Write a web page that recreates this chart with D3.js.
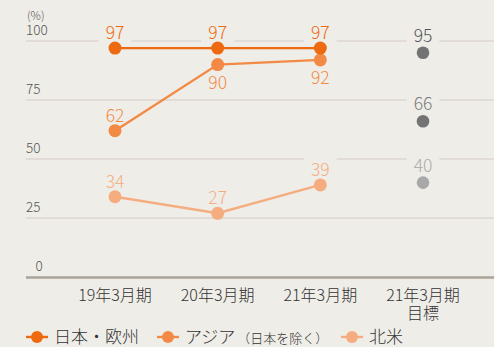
<!DOCTYPE html>
<html>
<head>
<meta charset="utf-8">
<script src="https://cdn.jsdelivr.net/npm/d3@7"></script>
<style>
  html, body { margin: 0; padding: 0; background: #efede8; }
  svg { display: block; font-family: "Noto Sans CJK JP", "Noto Sans", sans-serif; }
</style>
</head>
<body>
<svg id="chart" width="494" height="347"></svg>
<script>
// Periods on the x axis (the last one is the target column)
const categories = ["19年3月期", "20年3月期", "21年3月期", "21年3月期\n目標"];
const yTicks = [0, 25, 50, 75, 100];

// Actual results per region
const japanEurope = [97, 97, 97];
const asia = [62, 90, 92];
const northAmerica = [34, 27, 39];

// Targets for the final period
const targets = [95, 66, 40];

const series = [
  { name: "日本・欧州", values: japanEurope, color: "#ee6a10", labelPos: ["above", "above", "above"] },
  { name: "アジア", sub: "（日本を除く）", values: asia, color: "#f28a45", labelPos: ["above", "below", "below"] },
  { name: "北米", values: northAmerica, color: "#f5ad80", labelPos: ["above", "above", "above"] }
];
const targetStyle = [
  { dot: "#737373", text: "#555555" },
  { dot: "#737373", text: "#7a7a7a" },
  { dot: "#a8a8a8", text: "#aaaaaa" }
];

const bg = "#efede8";
const svg = d3.select("#chart");

const x = d3.scalePoint().domain(categories).range([115, 423]);
const y = d3.scaleLinear().domain([0, 100]).range([277, 41]);
const left = 26, right = 494;

// Horizontal grid lines
svg.append("g").selectAll("line")
  .data(yTicks.filter(d => d > 0))
  .join("line")
  .attr("x1", left).attr("x2", right)
  .attr("y1", d => y(d)).attr("y2", d => y(d))
  .attr("stroke", "#d3ccc5").attr("stroke-width", 1.2);

// Baseline
svg.append("line")
  .attr("x1", left).attr("x2", right)
  .attr("y1", y(0) + 0.5).attr("y2", y(0) + 0.5)
  .attr("stroke", "#aaa197").attr("stroke-width", 2.6);

// Y tick labels sit just above their grid lines
svg.append("g").selectAll("text")
  .data(yTicks)
  .join("text")
  .attr("x", d => d === 0 ? 39 : left)
  .attr("y", d => y(d) - 6)
  .attr("text-anchor", d => d === 0 ? "middle" : "start")
  .attr("font-size", 13.5)
  .attr("font-weight", 300)
  .attr("fill", "#555")
  .text(d => d);

svg.append("text")
  .attr("x", left + 1).attr("y", 20)
  .attr("font-size", 11.5)
  .attr("font-weight", 300)
  .attr("fill", "#555")
  .text("(%)");

// X axis labels
const xl = svg.append("g").selectAll("text")
  .data(categories)
  .join("text")
  .attr("x", d => x(d))
  .attr("y", 301)
  .attr("text-anchor", "middle")
  .attr("font-size", 16)
  .attr("font-weight", 300)
  .attr("fill", "#333");
xl.each(function(d) {
  const lines = d.split("\n");
  d3.select(this).selectAll("tspan")
    .data(lines)
    .join("tspan")
    .attr("x", x(d))
    .attr("dy", (l, i) => i === 0 ? 0 : 18)
    .text(l => l);
});

// Value label with a background patch that breaks the grid line behind it
function valueLabel(g, cx, cy, text, color, pos) {
  const ty = pos === "above" ? cy - 9 : cy + 24;
  const t = g.append("text")
    .attr("x", cx).attr("y", ty)
    .attr("text-anchor", "middle")
    .attr("font-size", 17.5)
    .attr("font-weight", 300)
    .attr("fill", color)
    .text(text);
  const bb = t.node().getBBox();
  g.insert("rect", () => t.node())
    .attr("x", bb.x - 7).attr("y", bb.y + 2)
    .attr("width", bb.width + 14).attr("height", bb.height - 2)
    .attr("fill", bg);
}

const labelsG = svg.append("g");
const marksG = svg.append("g");
const line = d3.line()
  .x((d, i) => x(categories[i]))
  .y(d => y(d));

// Draw series in reverse so the top series sits on top
[...series].reverse().forEach(s => {
  marksG.append("path")
    .datum(s.values)
    .attr("d", line)
    .attr("fill", "none")
    .attr("stroke", s.color)
    .attr("stroke-width", 2.4);
  marksG.append("g").selectAll("circle")
    .data(s.values)
    .join("circle")
    .attr("cx", (d, i) => x(categories[i]))
    .attr("cy", d => y(d))
    .attr("r", 6.5)
    .attr("fill", s.color);
  s.values.forEach((v, i) => {
    valueLabel(labelsG, x(categories[i]), y(v), v, s.color, s.labelPos[i]);
  });
});

// Target points
targets.forEach((v, i) => {
  const cx = x(categories[3]);
  marksG.append("circle")
    .attr("cx", cx).attr("cy", y(v))
    .attr("r", 6.3)
    .attr("fill", targetStyle[i].dot);
  valueLabel(labelsG, cx, y(v) - 2, v, targetStyle[i].text, "above");
});

// Legend
const legendY = 337;
const legendX = [26, 157, 341];
series.forEach((s, i) => {
  const g = svg.append("g").attr("transform", `translate(${legendX[i]},${legendY})`);
  g.append("line").attr("x1", 0).attr("x2", 22).attr("y1", 0).attr("y2", 0)
    .attr("stroke", s.color).attr("stroke-width", 2.4);
  g.append("circle").attr("cx", 11).attr("cy", 0).attr("r", 6).attr("fill", s.color);
  const t = g.append("text").attr("x", 28).attr("y", 6)
    .attr("font-size", 17).attr("font-weight", 300).attr("fill", "#333");
  t.append("tspan").text(s.name);
  if (s.sub) t.append("tspan").attr("font-size", 13).attr("dx", 2).text(s.sub);
});
</script>
</body>
</html>
